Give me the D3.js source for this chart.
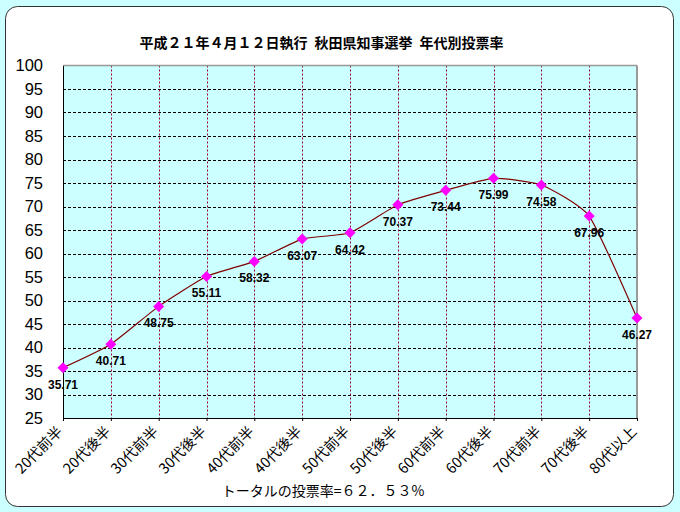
<!DOCTYPE html>
<html><head><meta charset="utf-8">
<script src="https://cdn.jsdelivr.net/npm/d3@7"></script>
<style>html,body{margin:0;padding:0;background:#ccffff;}svg{display:block;}</style>
</head><body>
<script>
const categories = ["20代前半","20代後半","30代前半","30代後半","40代前半","40代後半","50代前半","50代後半","60代前半","60代後半","70代前半","70代後半","80代以上"];
const turnout = [35.71,40.71,48.75,55.11,58.32,63.07,64.42,70.37,73.44,75.99,74.58,67.96,46.27];
const yTicks = [25,30,35,40,45,50,55,60,65,70,75,80,85,90,95,100];
const titleText = "平成２１年４月１２日執行\u2002秋田県知事選挙\u2002年代別投票率";
const footerText = "トータルの投票率=６２．５３%";

(function () {
const W = 680, H = 512;
const svg = d3.select("body").append("svg").attr("width", W).attr("height", H);
svg.append("rect").attr("width", W).attr("height", H).attr("fill", "#ccffff");
svg.append("rect").attr("x", 5.5).attr("y", 6.5).attr("width", 668).attr("height", 500)
  .attr("rx", 12).attr("ry", 12).attr("fill", "#ffffff").attr("stroke", "#333333").attr("stroke-width", 1);

const pL = 63, pR = 637, pT = 65.5, pB = 418;
const x = d3.scalePoint().domain(categories).range([pL, pR]);
const y = d3.scaleLinear().domain([25, 100]).range([pB, pT]);

svg.append("rect").attr("x", pL).attr("y", pT).attr("width", pR - pL).attr("height", pB - pT)
  .attr("fill", "#ccffff");

// horizontal grid
svg.append("g").selectAll("line").data(yTicks.filter(d => d > 25 && d < 100)).join("line")
  .attr("x1", pL).attr("x2", pR).attr("y1", d => Math.round(y(d)) + 0.5).attr("y2", d => Math.round(y(d)) + 0.5)
  .attr("stroke", "#000").attr("stroke-dasharray", "3,2");
// vertical grid
svg.append("g").selectAll("line").data(categories.slice(1, -1)).join("line")
  .attr("x1", d => Math.round(x(d)) + 0.5).attr("x2", d => Math.round(x(d)) + 0.5).attr("y1", pT).attr("y2", pB)
  .attr("stroke", "#990033").attr("stroke-dasharray", "2,2");

// borders
svg.append("line").attr("x1", pL).attr("x2", pR).attr("y1", pT).attr("y2", pT).attr("stroke", "#999").attr("stroke-width", 1.5);
svg.append("line").attr("x1", pR).attr("x2", pR).attr("y1", pT).attr("y2", pB).attr("stroke", "#999").attr("stroke-width", 2);

// axes
const xAxis = d3.axisBottom(x).tickSize(3).tickFormat("");
const gx = svg.append("g").attr("transform", `translate(0,${pB})`).call(xAxis);
gx.select(".domain").attr("stroke", "#000");
gx.selectAll(".tick line").attr("stroke", "#000");
const gy = svg.append("g").attr("transform", `translate(${pL},0)`).call(d3.axisLeft(y).tickValues(yTicks).tickSize(0).tickPadding(20));
gy.select(".domain").attr("stroke", "#000");
gy.selectAll("text").attr("font-family", "Liberation Sans, Arial, sans-serif").attr("font-size", 16.5).attr("fill", "#000");

// x labels rotated
svg.append("g").selectAll("text").data(categories).join("text")
  .attr("transform", d => `translate(${x(d) - 3},${pB + 11}) rotate(-45)`)
  .attr("text-anchor", "end").attr("dy", "0.35em")
  .attr("font-family", "Noto Sans CJK JP, sans-serif").attr("font-size", 14.5).attr("fill", "#000")
  .text(d => d);

// smoothed line
const line = d3.line().x((d, i) => x(categories[i])).y(d => y(d)).curve(d3.curveCardinal.tension(0.5));
svg.append("path").datum(turnout).attr("d", line).attr("fill", "none").attr("stroke", "#800000").attr("stroke-width", 1.2);

// markers
svg.append("g").selectAll("path").data(turnout).join("path")
  .attr("transform", (d, i) => `translate(${x(categories[i])},${y(d)})`)
  .attr("d", "M0,-5.5L5.5,0L0,5.5L-5.5,0Z").attr("fill", "#ff00ff");

// data labels
svg.append("g").selectAll("text").data(turnout).join("text")
  .attr("x", (d, i) => x(categories[i])).attr("y", d => y(d) + 21)
  .attr("text-anchor", "middle").attr("font-family", "Liberation Sans, Arial, sans-serif")
  .attr("font-weight", "bold").attr("font-size", 12).attr("fill", "#000")
  .text(d => d.toFixed(2));

// title
svg.append("text").attr("x", 321.5).attr("y", 48).attr("text-anchor", "middle")
  .attr("font-family", "Noto Sans CJK JP, sans-serif").attr("font-weight", "bold").attr("font-size", 14).attr("fill", "#000")
  .text(titleText);
// footer
svg.append("text").attr("x", 323).attr("y", 496).attr("text-anchor", "middle")
  .attr("font-family", "Noto Sans CJK JP, sans-serif").attr("font-size", 14).attr("fill", "#000")
  .text(footerText);
})();
</script>
</body></html>
